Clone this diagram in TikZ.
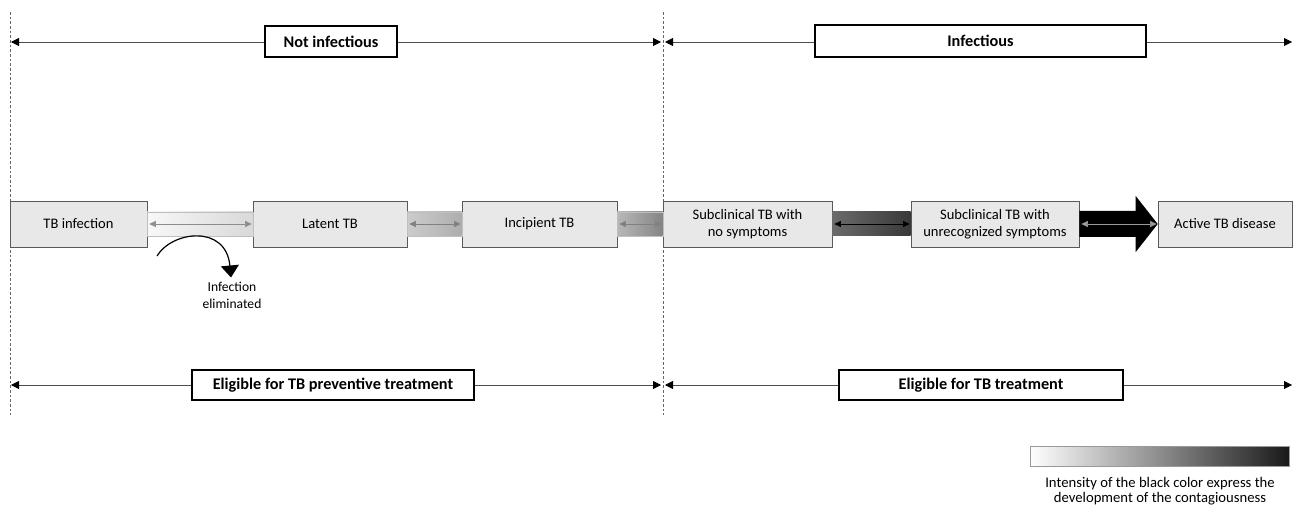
\documentclass[tikz,border=0pt]{standalone}
\usepackage{fontspec}
\setmainfont{Carlito}
\usetikzlibrary{arrows.meta,calc}
\begin{document}
\begin{tikzpicture}[x=0.75pt,y=-0.75pt,
  stage/.style={draw=black!65, fill=black!9, minimum height=46*0.75pt, inner sep=0pt, align=center, font=\fontsize{10.9}{12.75}\selectfont},
  label/.style={draw=black, line width=0.9pt, fill=white, inner sep=0pt, font=\bfseries\fontsize{12.2}{14}\selectfont},
  span/.style={black!70, line width=0.6pt, {Triangle[length=6pt,width=6pt,color=black]}-{Triangle[length=6pt,width=6pt,color=black]}},
  inner/.style={line width=0.5pt, {Triangle[length=5pt,width=4.5pt]}-{Triangle[length=5pt,width=4.5pt]}},
  band/.style={draw=black!25, line width=0.3pt},
  divider/.style={black!60, line width=0.4pt, dash pattern=on 2pt off 1.5pt}
]
\useasboundingbox (0,0) rectangle (1293,506);

% dividers
\draw[divider] (10,12) -- (10,415);
\draw[divider] (663,12) -- (663,415);

% top and bottom spans
\coordinate (tl) at (11,42); \coordinate (tm1) at (661,42);
\coordinate (tm2) at (665,42); \coordinate (tr) at (1292,42);
\coordinate (bl) at (11,385); \coordinate (bm1) at (661,385);
\coordinate (bm2) at (665,385); \coordinate (br) at (1292,385);
\draw[span] (tl) -- (tm1);
\draw[span] (tm2) -- (tr);
\draw[span] (bl) -- (bm1);
\draw[span] (bm2) -- (br);
\node[label, minimum width=132*0.75pt, minimum height=31*0.75pt] (notinf) at (331,41.5) {Not infectious};
\node[label, minimum width=331*0.75pt, minimum height=32*0.75pt] (inf) at (980.5,41) {Infectious};
\node[label, minimum width=282*0.75pt, minimum height=30*0.75pt] (prev) at (333,385) {Eligible for TB preventive treatment};
\node[label, minimum width=284*0.75pt, minimum height=30*0.75pt] (treat) at (981,385) {Eligible for TB treatment};

% stages
\node[stage, minimum width=137*0.75pt] (inf1) at (78.5,224) {TB infection};
\node[stage, minimum width=154*0.75pt] (lat) at (330,224) {Latent TB};
\node[stage, minimum width=155*0.75pt] (inc) at (539.5,224) {Incipient TB};
\node[stage, minimum width=169*0.75pt] (sub1) at (747.5,224) {Subclinical TB with\\no symptoms};
\node[stage, minimum width=168*0.75pt] (sub2) at (995,224) {Subclinical TB with\\unrecognized symptoms};
\node[stage, minimum width=134*0.75pt] (act) at (1225,224) {Active TB disease};

% bands
\shade[band, left color=black!3, right color=black!15] ($(inf1.east)+(0,-12)$) rectangle ($(lat.west)+(0,12)$);
\shade[band, left color=black!20, right color=black!32] ($(lat.east)+(0,-12)$) rectangle ($(inc.west)+(0,12)$);
\shade[band, left color=black!28, right color=black!48] ($(inc.east)+(0,-12)$) rectangle ($(sub1.west)+(0,12)$);
\shade[draw=none, left color=black!58, right color=black!78] ($(sub1.east)+(0,-12)$) rectangle ($(sub2.west)+(0,12)$);
\fill[black] ($(sub2.east)+(0,-13)$) -- ($(act.west)+(-22,-13)$) -- ($(act.west)+(-22,-28)$)
  -- (act.west) -- ($(act.west)+(-22,28)$) -- ($(act.west)+(-22,13)$) -- ($(sub2.east)+(0,13)$) -- cycle;

% inner arrows
\draw[inner, black!45] ($(inf1.east)+(2,0)$) -- ($(lat.west)+(-1,0)$);
\draw[inner, black!50] ($(lat.east)+(2,0)$) -- ($(inc.west)+(-1,0)$);
\draw[inner, black!50] ($(inc.east)+(2,0)$) -- ($(sub1.west)+(-1,0)$);
\draw[inner, black] ($(sub1.east)+(2,0)$) -- ($(sub2.west)+(-1,0)$);
\draw[inner, black!40] ($(sub2.east)+(2,0)$) -- ($(act.west)+(-1,0)$);

% infection eliminated
\node[align=center, font=\fontsize{10.2}{12.75}\selectfont, inner sep=0pt] (elim) at (232,295) {Infection\\eliminated};
\coordinate (arcstart) at (157,256);
\draw[line width=0.9pt, -{Triangle[length=9pt,width=13.5pt]}] (arcstart) .. controls (172,231) and (226,224) .. ($(elim.north)+(-1,-4)$);

% legend
\shade[draw=black!40, line width=0.4pt, left color=white, middle color=black!18, right color=black!90] (1030,446) rectangle (1289,466);
\node[align=center, anchor=north, font=\fontsize{11}{11}\selectfont, inner sep=0pt] (legend) at (1160,477) {Intensity of the black color express the\\development of the contagiousness};
\end{tikzpicture}
\end{document}
